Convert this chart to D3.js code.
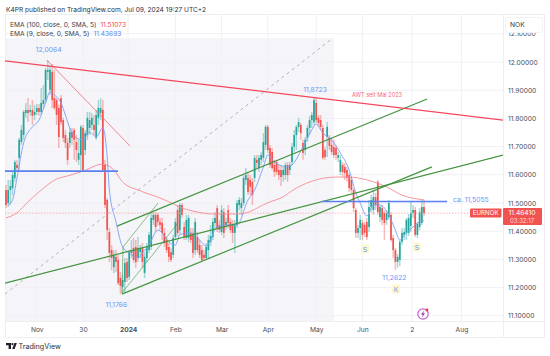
<!DOCTYPE html>
<html>
<head>
<meta charset="utf-8">
<script src="https://cdn.jsdelivr.net/npm/d3@7"></script>
<style>
  html, body { margin: 0; padding: 0; background: #fff; }
  svg { display: block; }
  text { font-family: "Inter", "Roboto", sans-serif; }
  .domain { display: none; }
  .tick line { display: none; }
</style>
</head>
<body>
<div id="chart"></div>
<script>
// Daily EURNOK candles
const opens = [
  11.546,11.500,11.546,11.553,11.589,11.635,11.660,11.716,11.741,11.819,
  11.830,11.823,11.830,11.812,11.823,11.837,11.823,11.851,11.865,11.965,
  11.901,11.965,11.872,11.865,11.837,11.872,11.794,11.741,11.713,11.713,
  11.752,11.759,11.716,11.653,11.670,11.766,11.688,11.741,11.766,11.777,
  11.777,11.731,11.802,11.819,11.830,11.635,11.511,11.397,11.333,11.273,
  11.309,11.298,11.234,11.202,11.220,11.291,11.238,11.323,11.341,11.344,
  11.305,11.326,11.341,11.252,11.305,11.333,11.344,11.440,11.458,11.458,
  11.433,11.429,11.394,11.369,11.344,11.326,11.316,11.379,11.475,11.404,
  11.493,11.415,11.376,11.376,11.394,11.394,11.333,11.379,11.351,11.333,
  11.316,11.305,11.333,11.362,11.379,11.429,11.482,11.422,11.397,11.468,
  11.422,11.475,11.433,11.422,11.394,11.422,11.493,11.482,11.500,11.582,
  11.589,11.582,11.575,11.589,11.653,11.624,11.653,11.660,11.706,11.770,
  11.695,11.681,11.635,11.645,11.617,11.617,11.599,11.599,11.635,11.617,
  11.645,11.699,11.741,11.770,11.777,11.713,11.688,11.731,11.766,11.794,
  11.787,11.855,11.802,11.794,11.766,11.688,11.734,11.731,11.706,11.699,
  11.695,11.660,11.610,11.635,11.628,11.617,11.599,11.582,11.546,11.475,
  11.394,11.411,11.429,11.422,11.433,11.415,11.486,11.475,11.521,11.575,
  11.450,11.482,11.465,11.440,11.450,11.458,11.376,11.333,11.291,11.298,
  11.362,11.387,11.394,11.394,11.419,11.465,11.475,11.387,11.415,11.429,11.486
];
const closes = [
  11.493,11.546,11.560,11.599,11.645,11.624,11.724,11.759,11.823,11.830,
  11.819,11.830,11.809,11.823,11.837,11.823,11.855,11.865,11.972,11.972,
  11.972,11.865,11.837,11.812,11.734,11.787,11.731,11.713,11.653,11.752,
  11.731,11.724,11.688,11.677,11.770,11.617,11.748,11.802,11.794,11.802,
  11.759,11.812,11.837,11.837,11.617,11.493,11.404,11.323,11.305,11.316,
  11.291,11.216,11.206,11.227,11.287,11.234,11.326,11.333,11.298,11.291,
  11.341,11.341,11.291,11.309,11.344,11.387,11.447,11.458,11.415,11.433,
  11.422,11.394,11.358,11.333,11.309,11.298,11.376,11.433,11.394,11.493,
  11.458,11.379,11.440,11.447,11.369,11.323,11.433,11.333,11.316,11.298,
  11.305,11.344,11.369,11.383,11.433,11.447,11.411,11.404,11.475,11.394,
  11.433,11.429,11.404,11.394,11.422,11.500,11.511,11.500,11.589,11.599,
  11.539,11.557,11.528,11.660,11.642,11.660,11.670,11.716,11.770,11.688,
  11.635,11.624,11.610,11.610,11.599,11.592,11.617,11.635,11.599,11.635,
  11.699,11.741,11.770,11.787,11.748,11.677,11.724,11.766,11.794,11.812,
  11.865,11.794,11.784,11.770,11.660,11.663,11.770,11.702,11.681,11.670,
  11.670,11.670,11.653,11.610,11.606,11.589,11.553,11.546,11.482,11.394,
  11.411,11.440,11.387,11.394,11.379,11.486,11.511,11.521,11.493,11.468,
  11.486,11.440,11.429,11.465,11.500,11.369,11.333,11.291,11.309,11.362,
  11.394,11.397,11.440,11.447,11.465,11.475,11.387,11.426,11.468,11.486,11.464
];
const highs = [
  11.564,11.582,11.582,11.610,11.653,11.653,11.731,11.777,11.830,11.855,
  11.872,11.848,11.865,11.848,11.851,11.851,11.908,11.918,11.979,12.006,
  11.989,11.993,11.972,11.872,11.848,11.883,11.802,11.759,11.731,11.766,
  11.766,11.766,11.741,11.724,11.777,11.777,11.759,11.823,11.823,11.819,
  11.812,11.830,11.865,11.872,11.865,11.653,11.518,11.411,11.351,11.333,
  11.333,11.316,11.255,11.245,11.305,11.305,11.333,11.369,11.376,11.369,
  11.379,11.351,11.358,11.326,11.358,11.397,11.468,11.468,11.468,11.465,
  11.447,11.447,11.411,11.379,11.358,11.341,11.387,11.447,11.493,11.500,
  11.500,11.433,11.458,11.458,11.411,11.411,11.447,11.397,11.369,11.351,
  11.333,11.358,11.387,11.422,11.447,11.468,11.493,11.440,11.493,11.482,
  11.447,11.493,11.447,11.440,11.440,11.511,11.521,11.518,11.599,11.624,
  11.610,11.599,11.589,11.670,11.670,11.670,11.681,11.748,11.777,11.777,
  11.706,11.695,11.653,11.653,11.635,11.635,11.628,11.645,11.645,11.645,
  11.713,11.759,11.777,11.802,11.784,11.724,11.734,11.777,11.809,11.823,
  11.872,11.872,11.812,11.812,11.777,11.699,11.787,11.741,11.731,11.724,
  11.706,11.681,11.670,11.645,11.642,11.628,11.606,11.592,11.553,11.482,
  11.422,11.458,11.440,11.433,11.447,11.511,11.528,11.546,11.536,11.582,
  11.493,11.493,11.475,11.475,11.511,11.468,11.387,11.341,11.319,11.369,
  11.411,11.411,11.447,11.461,11.504,11.493,11.486,11.433,11.482,11.511,11.511
];
const lows = [
  11.482,11.486,11.493,11.528,11.575,11.610,11.617,11.706,11.724,11.802,
  11.787,11.809,11.777,11.794,11.812,11.809,11.812,11.837,11.855,11.936,
  11.883,11.837,11.830,11.777,11.695,11.777,11.716,11.695,11.635,11.695,
  11.706,11.653,11.645,11.635,11.617,11.610,11.670,11.724,11.741,11.759,
  11.741,11.724,11.777,11.794,11.610,11.482,11.369,11.291,11.262,11.252,
  11.255,11.209,11.177,11.181,11.181,11.220,11.227,11.305,11.287,11.270,
  11.291,11.305,11.270,11.234,11.291,11.323,11.333,11.422,11.397,11.419,
  11.404,11.369,11.344,11.323,11.291,11.291,11.305,11.369,11.383,11.387,
  11.447,11.369,11.369,11.362,11.358,11.305,11.316,11.323,11.305,11.291,
  11.298,11.298,11.305,11.348,11.369,11.411,11.397,11.394,11.387,11.376,
  11.404,11.411,11.394,11.358,11.323,11.411,11.475,11.458,11.490,11.564,
  11.528,11.528,11.493,11.575,11.624,11.610,11.635,11.645,11.688,11.677,
  11.624,11.617,11.592,11.599,11.582,11.560,11.575,11.582,11.575,11.599,
  11.635,11.681,11.688,11.752,11.724,11.653,11.670,11.716,11.741,11.766,
  11.777,11.784,11.770,11.759,11.653,11.653,11.663,11.688,11.670,11.660,
  11.653,11.645,11.599,11.592,11.582,11.575,11.539,11.536,11.468,11.376,
  11.376,11.369,11.369,11.379,11.369,11.397,11.468,11.458,11.475,11.458,
  11.433,11.422,11.369,11.422,11.440,11.362,11.305,11.262,11.270,11.277,
  11.351,11.369,11.369,11.383,11.397,11.447,11.379,11.376,11.404,11.422,11.454
];

// Moving averages: candle index and value at the points
const emaFastIndex = [1,3,5,8,12,15,18,20,22,25,27,29,32,35,38,41,44,46,47,50,53,56,60,62,65,69,71,74,77,79,83,86,88,91,96,100,105,110,113,117,119,122,128,130,135,139,141,144,148,152,156,159,161,164,167,170,174,177,179,182,185,188,190];
const emaFastValue = [11.493,11.511,11.589,11.713,11.770,11.794,11.855,11.894,11.883,11.855,11.812,11.766,11.731,11.724,11.752,11.734,11.766,11.663,11.546,11.433,11.344,11.323,11.305,11.323,11.351,11.404,11.394,11.362,11.351,11.387,11.394,11.387,11.369,11.348,11.415,11.422,11.422,11.511,11.546,11.628,11.670,11.645,11.628,11.635,11.699,11.759,11.780,11.748,11.724,11.677,11.617,11.536,11.500,11.454,11.493,11.493,11.458,11.404,11.369,11.394,11.415,11.433,11.437];
const emaSlowIndex = [0,5,10,15,23,28,35,44,49,53,61,70,76,79,87,94,106,120,125,132,141,150,156,164,173,180,190];
const emaSlowValue = [11.447,11.465,11.504,11.539,11.585,11.596,11.613,11.638,11.617,11.575,11.543,11.518,11.497,11.486,11.468,11.461,11.461,11.504,11.518,11.553,11.582,11.592,11.592,11.582,11.557,11.528,11.511];

// Drawn trend lines: pairs of [candle index, price]
const resistanceLine = [[-0.45, 12.004], [226, 11.794]];
const steepLine = [[18.6, 12.007], [56.4, 11.702]];
const dashedLine = [[-0.45, 11.177], [148.6, 12.085]];
const greenLongLine = [[-0.45, 11.216], [226, 11.670]];
const greenLowerLine = [[52.7, 11.177], [193.6, 11.628]];
const greenUpperLine = [[50.5, 11.418], [191.4, 11.869]];
const forkLineA = [[52.7, 11.181], [53.2, 11.344], [69.1, 11.500]];
const forkLineB = [[52.7, 11.181], [78.2, 11.429]];
const blueLevelLeft = [[-0.45, 11.613], [50.9, 11.613]];
const blueLevelRight = [[143.6, 11.5055], [200.5, 11.5055]];

const peakIndex = [19, 52, 140, 177];
const peakValue = [12.0064, 11.1766, 11.8723, 11.2622];
const peakText = ["12,0064", "11,1766", "11,8723", "11,2622"];

const priceTicks = [12.1, 12.0, 11.9, 11.8, 11.7, 11.6, 11.5, 11.4, 11.3, 11.2, 11.1];
const timeTickIndex = [14, 35, 55.5, 77, 98, 119, 141, 162, 184.5, 207];
const timeTickText = ["Nov", "30", "2024", "Feb", "Mar", "Apr", "May", "Jun", "2", "Aug"];
const lastPrice = 11.4641;

const WIDTH = 550, HEIGHT = 356;
const PLOT_LEFT = 5, PLOT_RIGHT = 503, PLOT_TOP = 14, PLOT_BOTTOM = 321, AXIS_RIGHT = 544, AXIS_BOTTOM = 337;

const UP = "#26a69a", DOWN = "#f05350";
const GREEN_LINE = "#43933f", BLUE_LINE = "#5b7ff0", BLUE_TEXT = "#6f94f5", RED_LINE = "#f4475b";
const AXIS_FONT = 6.7;

const x = d3.scaleLinear().domain([0, 190]).range([6, 424]);
const y = d3.scaleLinear().domain([12, 11.1]).range([62, 315.8]);

const svg = d3.select("#chart").append("svg").attr("width", WIDTH).attr("height", HEIGHT);

svg.append("defs").append("clipPath").attr("id", "plotClip")
    .append("rect")
    .attr("x", PLOT_LEFT).attr("y", PLOT_TOP)
    .attr("width", PLOT_RIGHT - PLOT_LEFT).attr("height", PLOT_BOTTOM - PLOT_TOP);

// shaded date range behind everything
svg.append("rect")
    .attr("x", PLOT_LEFT).attr("y", 38)
    .attr("width", 334 - PLOT_LEFT).attr("height", PLOT_BOTTOM - 38)
    .attr("fill", "#f5f5f9");

// grid
const grid = svg.append("g").attr("stroke", "#f0f0f4").attr("stroke-width", 1);
priceTicks.forEach(p => {
    grid.append("line").attr("x1", PLOT_LEFT).attr("x2", PLOT_RIGHT).attr("y1", y(p)).attr("y2", y(p));
});
timeTickIndex.forEach(i => {
    grid.append("line").attr("x1", x(i)).attr("x2", x(i)).attr("y1", PLOT_TOP).attr("y2", PLOT_BOTTOM);
});

// frame
const frame = svg.append("g").attr("stroke", "#eeeef1").attr("stroke-width", 1).attr("fill", "none");
frame.append("rect").attr("x", PLOT_LEFT + 0.5).attr("y", PLOT_TOP + 0.5)
    .attr("width", AXIS_RIGHT - PLOT_LEFT).attr("height", AXIS_BOTTOM - PLOT_TOP);
frame.append("line").attr("x1", PLOT_LEFT).attr("x2", AXIS_RIGHT).attr("y1", PLOT_BOTTOM + 0.5).attr("y2", PLOT_BOTTOM + 0.5);
frame.append("line").attr("x1", PLOT_RIGHT + 0.5).attr("x2", PLOT_RIGHT + 0.5).attr("y1", PLOT_TOP).attr("y2", AXIS_BOTTOM);

const plot = svg.append("g").attr("clip-path", "url(#plotClip)");

// candles
const candles = plot.append("g").selectAll("g").data(opens.map((o, i) => i)).enter().append("g");
candles.append("line")
    .attr("x1", i => x(i)).attr("x2", i => x(i))
    .attr("y1", i => y(highs[i])).attr("y2", i => y(lows[i]))
    .attr("stroke", i => closes[i] >= opens[i] ? UP : DOWN)
    .attr("stroke-opacity", 0.4)
    .attr("stroke-width", 1.5);
candles.append("rect")
    .attr("x", i => x(i) - 0.85)
    .attr("width", 1.7)
    .attr("y", i => y(Math.max(opens[i], closes[i])))
    .attr("height", i => Math.max(1, Math.abs(y(opens[i]) - y(closes[i]))))
    .attr("fill", i => closes[i] >= opens[i] ? UP : DOWN);

// moving averages
const avgLine = d3.line().x(d => x(d[0])).y(d => y(d[1])).curve(d3.curveMonotoneX);
plot.append("path").attr("d", avgLine(emaSlowIndex.map((d, i) => [d, emaSlowValue[i]])))
    .attr("fill", "none").attr("stroke", "#f58a92").attr("stroke-width", 0.9);
plot.append("path").attr("d", avgLine(emaFastIndex.map((d, i) => [d, emaFastValue[i]])))
    .attr("fill", "none").attr("stroke", "#7b9df5").attr("stroke-width", 0.9);

// last price dotted line
plot.append("line")
    .attr("x1", PLOT_LEFT).attr("x2", PLOT_RIGHT).attr("y1", y(lastPrice)).attr("y2", y(lastPrice))
    .attr("stroke", "#f7a3a3").attr("stroke-width", 0.8).attr("stroke-dasharray", "1.5 1.5");

// trend lines
const straight = d3.line().x(d => x(d[0])).y(d => y(d[1]));
function drawLine(points, color, width, dash) {
    plot.append("path").attr("d", straight(points))
        .attr("fill", "none").attr("stroke", color).attr("stroke-width", width)
        .attr("stroke-dasharray", dash || null);
}
drawLine(dashedLine, "#a8a8ae", 0.9, "3 3.5");
drawLine(steepLine, "#f4677a", 0.8);
drawLine(forkLineA, GREEN_LINE, 0.6);
drawLine(forkLineB, GREEN_LINE, 0.6);
drawLine(greenLongLine, GREEN_LINE, 1.2);
drawLine(greenLowerLine, GREEN_LINE, 1.2);
drawLine(greenUpperLine, GREEN_LINE, 1.2);
drawLine(resistanceLine, RED_LINE, 1.2);
drawLine(blueLevelLeft, BLUE_LINE, 1.6);
drawLine(blueLevelRight, BLUE_LINE, 1.6);

// peak and trough values
const peakDx = [1, -4, 1, -1];
const peakDy = [-8, 13, -6, 10];
svg.append("g").selectAll("text").data(peakText).enter().append("text")
    .attr("x", (d, i) => x(peakIndex[i]) + peakDx[i])
    .attr("y", (d, i) => y(peakValue[i]) + peakDy[i])
    .attr("text-anchor", "middle")
    .attr("font-size", 6.8)
    .attr("fill", BLUE_TEXT)
    .text(d => d);

svg.append("text").attr("x", 377).attr("y", 97).attr("text-anchor", "middle")
    .attr("font-size", 5.6).attr("fill", "#f4677a").text("AWT seit Mai 2023");
svg.append("text").attr("x", 453).attr("y", 201.5).attr("text-anchor", "start")
    .attr("font-size", 6.8).attr("fill", BLUE_TEXT).text("ca. 11,5055");

// S-K-S tags
[["S", 365, 249], ["S", 417, 247], ["K", 396, 289]].forEach(([t, tx, ty]) => {
    svg.append("rect").attr("x", tx - 4).attr("y", ty - 4.5).attr("width", 8).attr("height", 9).attr("fill", "#fdf7cf");
    svg.append("text").attr("x", tx).attr("y", ty + 2.5).attr("text-anchor", "middle")
        .attr("font-size", 6.8).attr("fill", "#6f94f5").text(t);
});

// lightning marker
const bolt = svg.append("g").attr("transform", "translate(423,314)");
bolt.append("circle").attr("r", 5.2).attr("fill", "#fff").attr("stroke", "#c05fd6").attr("stroke-width", 1.2);
bolt.append("path").attr("d", "M1,-3.2 L-2,0.6 L-0.2,0.6 L-1,3.2 L2,-0.6 L0.2,-0.6 Z").attr("fill", "#9c27b0");
bolt.append("circle").attr("cx", 4).attr("cy", -4).attr("r", 1.4).attr("fill", "#f23645");

// price axis
const priceAxis = svg.append("g")
    .attr("transform", `translate(${PLOT_RIGHT},0)`)
    .call(d3.axisRight(y).tickValues(priceTicks).tickFormat(d => d.toFixed(5)).tickSize(0).tickPadding(5));
priceAxis.selectAll("text").attr("font-size", AXIS_FONT).attr("fill", "#4a4d57")
    .style("font-family", "Inter, Roboto, sans-serif");

// currency box sits over the top tick
svg.append("rect").attr("x", 505.5).attr("y", 17.5).attr("width", 37).attr("height", 15).attr("rx", 2)
    .attr("fill", "#fff").attr("stroke", "#f2f2f5");
svg.append("text").attr("x", 510).attr("y", 27).attr("font-size", AXIS_FONT).attr("fill", "#333").text("NOK");

// time axis
const timeAxis = svg.append("g")
    .attr("transform", `translate(0,${PLOT_BOTTOM})`)
    .call(d3.axisBottom(x).tickValues(timeTickIndex).tickFormat((d, i) => timeTickText[i]).tickSize(0).tickPadding(6));
timeAxis.selectAll("text").attr("font-size", AXIS_FONT).attr("fill", "#4a4d57")
    .style("font-family", "Inter, Roboto, sans-serif")
    .attr("font-weight", d => d === 55.5 ? 700 : 400);

// last price tags
svg.append("rect").attr("x", 470).attr("y", y(lastPrice) - 4.5).attr("width", 31.5).attr("height", 9).attr("rx", 1).attr("fill", DOWN);
svg.append("text").attr("x", 485.7).attr("y", y(lastPrice) + 2.3).attr("text-anchor", "middle")
    .attr("font-size", 6.2).attr("fill", "#fff").text("EURNOK");
svg.append("rect").attr("x", 503).attr("y", y(lastPrice) - 5).attr("width", 39).attr("height", 17).attr("rx", 1).attr("fill", DOWN);
svg.append("text").attr("x", 522).attr("y", y(lastPrice) + 2).attr("text-anchor", "middle")
    .attr("font-size", AXIS_FONT).attr("fill", "#fff").text(lastPrice.toFixed(4) + "0");
svg.append("text").attr("x", 522).attr("y", y(lastPrice) + 9.5).attr("text-anchor", "middle")
    .attr("font-size", 6).attr("fill", "#ffdcdc").text("03:32:17");

// header
svg.append("text").attr("x", 6).attr("y", 12).attr("font-size", 6.6).attr("fill", "#2a2e39")
    .text("K4PR published on TradingView.com, Jul 09, 2024 19:27 UTC+2");

// legend
const legend = [
    ["EMA (100, close, 0, SMA, 5)", "11.51073", "#f4475b", 26.5],
    ["EMA (9, close, 0, SMA, 5)", "11.43693", "#5b83f0", 36]
];
legend.forEach(([name, val, color, ly]) => {
    const t = svg.append("text").attr("x", 10).attr("y", ly).attr("font-size", 6.6).attr("fill", "#3a3d48");
    t.append("tspan").text(name);
    t.append("tspan").attr("dx", 4).attr("fill", color).text(val);
});

// footer logo
const logo = svg.append("g").attr("transform", "translate(6,343)").attr("fill", "#1f2129");
logo.append("path").attr("d", "M0,0 H5 V6 H2.6 V2.2 H0 Z");
logo.append("circle").attr("cx", 6.4).attr("cy", 1.1).attr("r", 1.1);
logo.append("path").attr("d", "M6.2,6 L8.4,0 H10.8 L8.6,6 Z");
svg.append("text").attr("x", 18.5).attr("y", 349).attr("font-size", 7.2).attr("fill", "#2a2e39").text("TradingView");
</script>
</body>
</html>
